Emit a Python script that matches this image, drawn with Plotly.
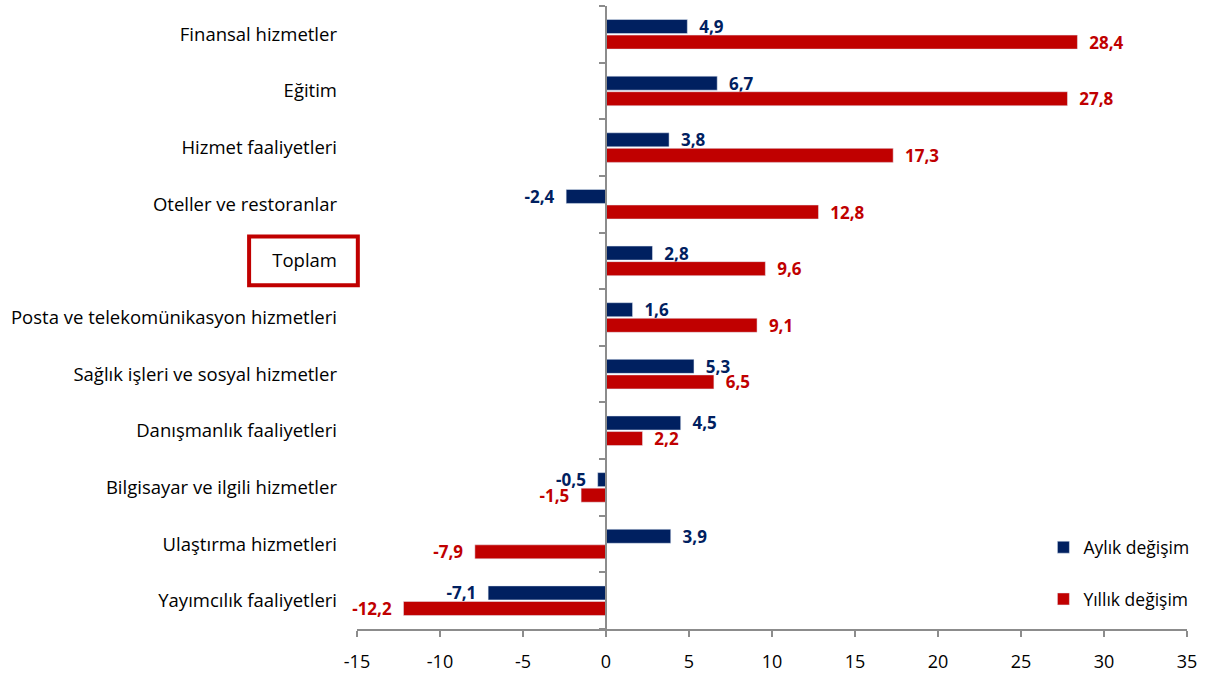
import plotly.graph_objects as go

categories = ["Finansal hizmetler", "Eğitim", "Hizmet faaliyetleri", "Oteller ve restoranlar",
              "Toplam", "Posta ve telekomünikasyon hizmetleri", "Sağlık işleri ve sosyal hizmetler",
              "Danışmanlık faaliyetleri", "Bilgisayar ve ilgili hizmetler", "Ulaştırma hizmetleri",
              "Yayımcılık faaliyetleri"]
aylik = [4.9, 6.7, 3.8, -2.4, 2.8, 1.6, 5.3, 4.5, -0.5, 3.9, -7.1]
yillik = [28.4, 27.8, 17.3, 12.8, 9.6, 9.1, 6.5, 2.2, -1.5, -7.9, -12.2]
x_ticks = [-15, -10, -5, 0, 5, 10, 15, 20, 25, 30, 35]

BLUE = "#002060"
RED = "#C00000"
FONT = "Open Sans"
PAD = "\u00a0\u00a0"

def fmt(v):
    s = f"{v:.1f}".replace(".", ",")
    return PAD + s if v >= 0 else s + PAD

idx = list(range(len(categories)))

fig = go.Figure()
fig.add_trace(go.Bar(y=idx, x=aylik, orientation="h", name="Aylık değişim",
                     marker_color=BLUE, text=[fmt(v) for v in aylik], textposition="outside",
                     textfont=dict(color=BLUE, size=17, family=FONT, weight="bold"),
                     constraintext="none", cliponaxis=False, legendgroup="a"))
fig.add_trace(go.Bar(y=idx, x=yillik, orientation="h", name="Yıllık değişim",
                     marker_color=RED, text=[fmt(v) for v in yillik], textposition="outside",
                     textfont=dict(color=RED, size=17, family=FONT, weight="bold"),
                     constraintext="none", cliponaxis=False, legendgroup="b"))

n = len(categories)
boundaries = [i - 0.5 for i in range(n + 1)]

fig.update_layout(
    width=1211, height=673,
    margin=dict(l=357, r=24, t=6, b=44, autoexpand=False),
    paper_bgcolor="white", plot_bgcolor="white",
    barmode="group", bargap=0.45, bargroupgap=0.1,
    font=dict(family=FONT, size=18, color="#000000"),
    xaxis=dict(range=[-15, 35], tickvals=x_ticks, ticktext=[str(t) for t in x_ticks],
               showgrid=False, zeroline=False, showline=True, linecolor="#8c8c8c", linewidth=1.5,
               ticks="outside", ticklen=6, tickcolor="#8c8c8c", tickwidth=1.5,
               ticklabelstandoff=10, automargin=False,
               tickfont=dict(size=18, family=FONT)),
    yaxis=dict(range=[n - 0.5, -0.5], tickvals=idx, ticktext=categories,
               showgrid=False, zeroline=False, showline=False, ticks="",
               ticklabelstandoff=19, automargin=False, tickfont=dict(size=18.5, family=FONT)),
    yaxis2=dict(range=[n - 0.5, -0.5], overlaying="y", anchor="free", position=0.3,
                side="left", showline=True, linecolor="#8c8c8c", linewidth=1.5,
                ticks="outside", ticklen=6, tickcolor="#8c8c8c", tickwidth=1.5,
                tickvals=boundaries, showticklabels=False, showgrid=False, zeroline=False,
                automargin=False),
    legend=dict(x=0.827, y=0.16, xanchor="left", yanchor="top", traceorder="grouped",
                tracegroupgap=26, font=dict(size=17.5, family=FONT), bgcolor="rgba(0,0,0,0)"),
    showlegend=True,
)
fig.add_trace(go.Scatter(x=[None], y=[None], yaxis="y2", showlegend=False, hoverinfo="skip"))

fig.add_shape(type="rect", xref="paper", yref="y", x0=-0.130, x1=0.001, y0=3.57, y1=4.43,
              line=dict(color=RED, width=4), fillcolor="rgba(0,0,0,0)")

fig.write_html("out.html", config={"displayModeBar": False},
               post_script="document.body.style.margin='0';")
